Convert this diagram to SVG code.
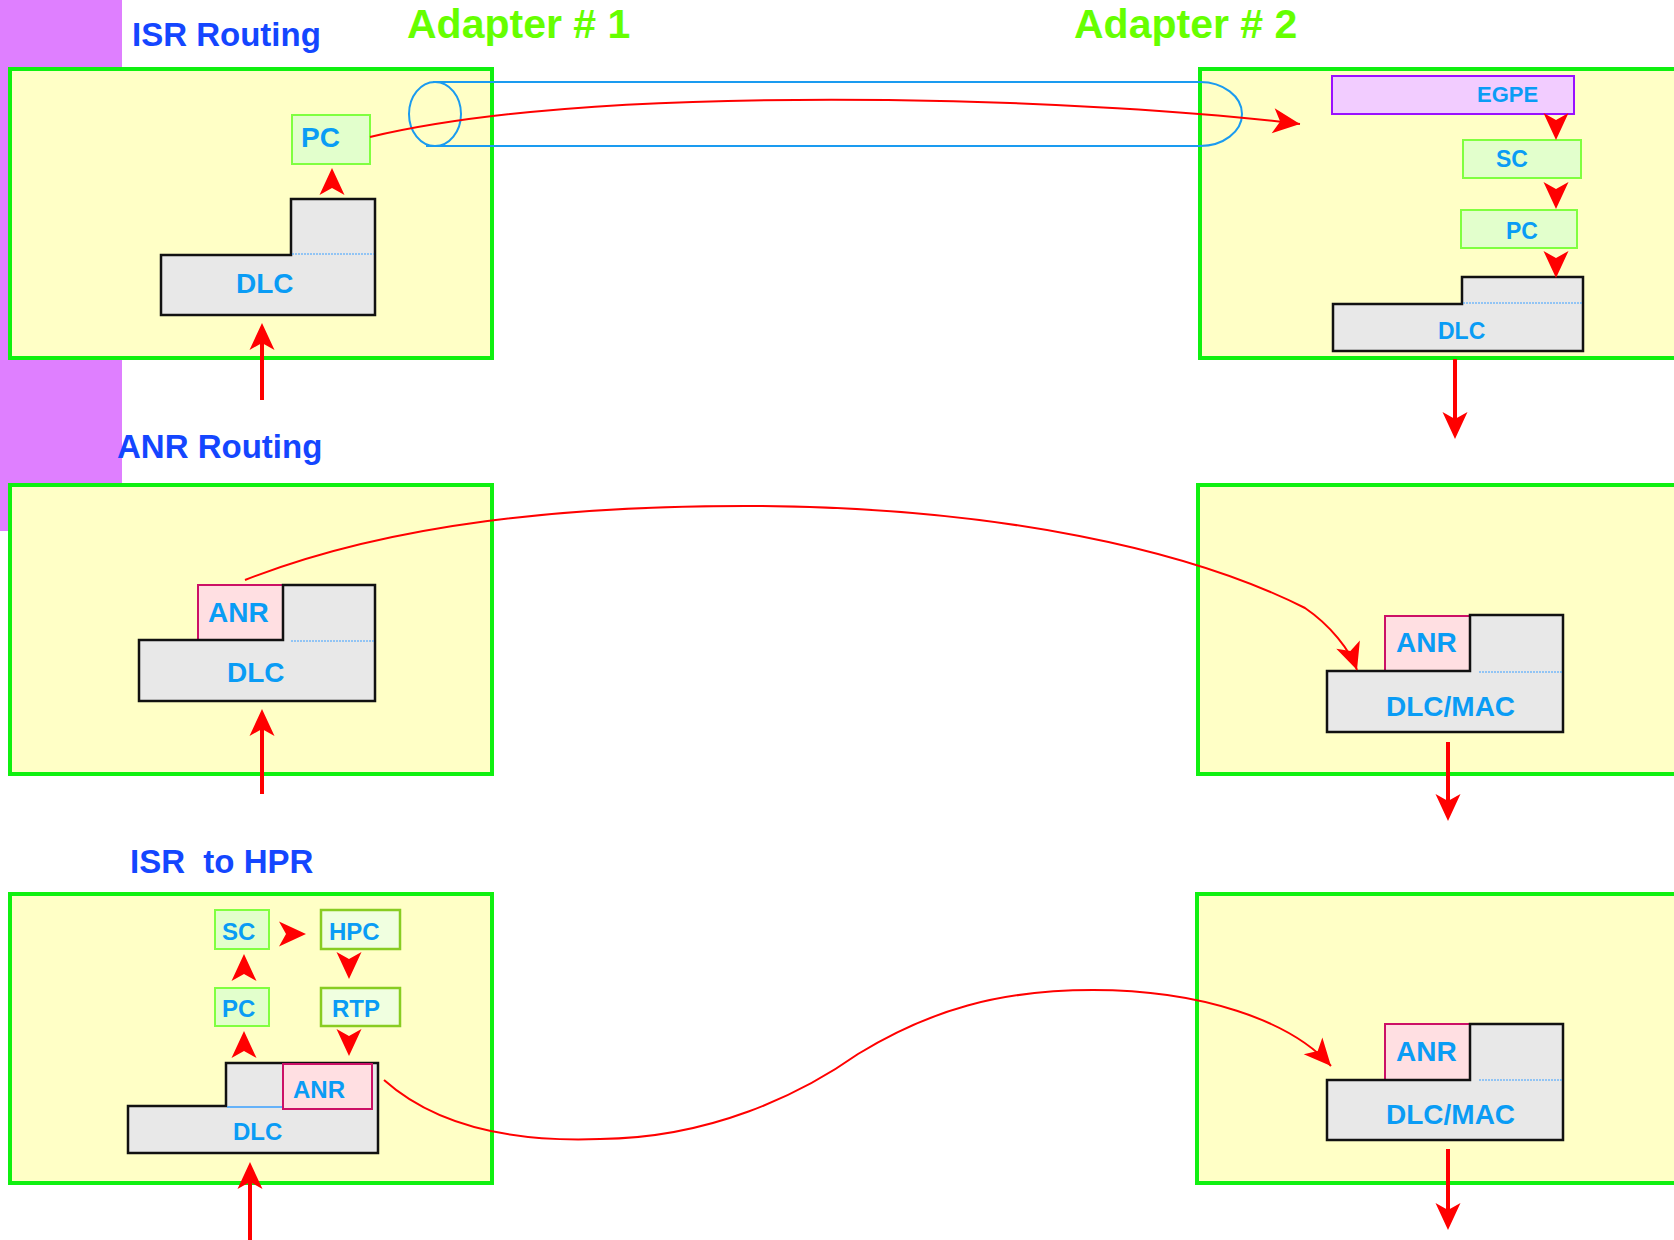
<svg xmlns="http://www.w3.org/2000/svg" xmlns:xlink="http://www.w3.org/1999/xlink" width="1674" height="1240" viewBox="0 0 1674 1240">
<style>
.panel{fill:#ffffc6;stroke:#10f010;stroke-width:4}
.head{font-family:"Liberation Sans",Arial,sans-serif;font-weight:bold;font-size:33px;fill:#1446ff}
.adapt{font-family:"Liberation Sans",Arial,sans-serif;font-weight:bold;font-size:41px;fill:#66ff00}
.lbl{font-family:"Liberation Sans",Arial,sans-serif;font-weight:bold;fill:#0a9cf5}
.gbox{fill:#e2ffcc;stroke:#80ff40;stroke-width:2}
.obox{fill:#f0ffe0;stroke:#88cc22;stroke-width:2.5}
.pbox{fill:#f2ccff;stroke:#9a10ff;stroke-width:2}
.anr{fill:#ffdfe2;stroke:#cc1166;stroke-width:2}
.dlc{fill:#e8e8e8;stroke:#111;stroke-width:2.5}
.dot{stroke:#3aa0ff;stroke-width:1.2;stroke-dasharray:2 1;fill:none}
.arr{stroke:#ff0000;stroke-width:4;fill:none}
.curve{stroke:#ff0000;stroke-width:2;fill:none}
.cyl{stroke:#1a9bf0;stroke-width:2;fill:none}
</style>
<defs>
<path id="ah" d="M0,0 L-12.5,27 L0,20 L12.5,27 Z" fill="#ff0000"/>
<marker id="mh" markerUnits="userSpaceOnUse" markerWidth="32" markerHeight="32" viewBox="-30 -15 32 30" refX="0" refY="0" orient="auto" overflow="visible">
<path d="M0,0 L-27,-12.5 L-20,0 L-27,12.5 Z" fill="#ff0000"/>
</marker>
</defs>
<rect x="0" y="0" width="1674" height="1240" fill="#ffffff"/>
<rect x="0" y="0" width="122" height="531" fill="#df7fff"/>

<text class="head" x="132" y="46">ISR Routing</text>
<text class="head" x="117" y="458">ANR Routing</text>
<text class="head" x="130" y="873" xml:space="preserve">ISR  to HPR</text>
<text class="adapt" x="407" y="38">Adapter # 1</text>
<text class="adapt" x="1074" y="38">Adapter # 2</text>

<g id="panel-isr-1">
<rect class="panel" x="10" y="69" width="482" height="289"/>
<g id="isr1-pc"><rect class="gbox" x="292" y="115" width="78" height="49"/><text class="lbl" x="301" y="147" font-size="28">PC</text></g>
<g id="isr1-dlc"><polygon class="dlc" points="161,255 291,255 291,199 375,199 375,315 161,315"/><line class="dot" x1="292" y1="254" x2="374" y2="254"/><text class="lbl" x="236" y="293" font-size="28">DLC</text></g>
</g>

<g id="panel-isr-2">
<rect class="panel" x="1200" y="69" width="490" height="289"/>
<g id="isr2-egpe"><rect class="pbox" x="1332" y="76" width="242" height="38"/><text class="lbl" x="1477" y="102" font-size="22">EGPE</text></g>
<g id="isr2-sc"><rect class="gbox" x="1463" y="140" width="118" height="38"/><text class="lbl" x="1496" y="167" font-size="23">SC</text></g>
<g id="isr2-pc"><rect class="gbox" x="1461" y="210" width="116" height="38"/><text class="lbl" x="1506" y="239" font-size="23">PC</text></g>
<g id="isr2-dlc"><polygon class="dlc" points="1333,304 1462,304 1462,277 1583,277 1583,351 1333,351"/><line class="dot" x1="1463" y1="303" x2="1583" y2="303"/><text class="lbl" x="1438" y="339" font-size="23">DLC</text></g>
</g>

<g id="panel-anr-1">
<rect class="panel" x="10" y="485" width="482" height="289"/>
<g id="anr1-anr"><rect class="anr" x="198" y="585" width="85" height="55"/><text class="lbl" x="208" y="622" font-size="28">ANR</text></g>
<g id="anr1-dlc"><polygon class="dlc" points="139,640 283,640 283,585 375,585 375,701 139,701"/><line class="dot" x1="291" y1="641" x2="374" y2="641"/><text class="lbl" x="227" y="682" font-size="28">DLC</text></g>
</g>

<g id="panel-anr-2">
<rect class="panel" x="1198" y="485" width="490" height="289"/>
<g id="anr2-anr"><rect class="anr" x="1385" y="616" width="85" height="55"/><text class="lbl" x="1396" y="652" font-size="28">ANR</text></g>
<g id="anr2-dlc"><polygon class="dlc" points="1327,671 1470,671 1470,615 1563,615 1563,732 1327,732"/><line class="dot" x1="1479" y1="672" x2="1563" y2="672"/><text class="lbl" x="1386" y="716" font-size="28">DLC/MAC</text></g>
</g>

<g id="panel-hpr-1">
<rect class="panel" x="10" y="894" width="482" height="289"/>
<g id="hpr1-sc"><rect class="gbox" x="215" y="910" width="54" height="39"/><text class="lbl" x="222" y="940" font-size="24">SC</text></g>
<g id="hpr1-hpc"><rect class="obox" x="321" y="910" width="79" height="39"/><text class="lbl" x="329" y="940" font-size="24">HPC</text></g>
<g id="hpr1-pc"><rect class="gbox" x="215" y="988" width="54" height="38"/><text class="lbl" x="222" y="1017" font-size="24">PC</text></g>
<g id="hpr1-rtp"><rect class="obox" x="321" y="988" width="79" height="38"/><text class="lbl" x="332" y="1017" font-size="24">RTP</text></g>
<g id="hpr1-dlc"><polygon class="dlc" points="128,1106 226,1106 226,1063 378,1063 378,1153 128,1153"/><line x1="227" y1="1107" x2="285" y2="1107" stroke="#3aa0ff" stroke-width="1.5"/><text class="lbl" x="233" y="1140" font-size="24">DLC</text></g>
<g id="hpr1-anr"><rect class="anr" x="283" y="1064" width="89" height="45"/><text class="lbl" x="293" y="1098" font-size="24">ANR</text></g>
</g>

<g id="panel-hpr-2">
<rect class="panel" x="1197" y="894" width="490" height="289"/>
<g id="hpr2-anr"><rect class="anr" x="1385" y="1024" width="85" height="56"/><text class="lbl" x="1396" y="1061" font-size="28">ANR</text></g>
<g id="hpr2-dlc"><polygon class="dlc" points="1327,1080 1470,1080 1470,1024 1563,1024 1563,1140 1327,1140"/><line class="dot" x1="1479" y1="1080" x2="1563" y2="1080"/><text class="lbl" x="1386" y="1124" font-size="28">DLC/MAC</text></g>
</g>

<g id="cylinder">
<ellipse class="cyl" cx="435" cy="114" rx="26" ry="32"/>
<line class="cyl" x1="433" y1="82" x2="1200" y2="82"/>
<line class="cyl" x1="426" y1="146" x2="1200" y2="146"/>
<path class="cyl" d="M1200,82 A42,32 0 0 1 1200,146"/>
</g>

<g id="connectors">
<path class="curve" d="M370,137 C500,106 700,98 888,100 C1050,102 1200,112 1300,124" marker-end="url(#mh)"/>
<path class="curve" d="M245,580 C390,523 570,505 760,506 C1000,508 1190,550 1305,608 C1330,625 1350,650 1357,670" marker-end="url(#mh)"/>
<path class="curve" d="M384,1080 C440,1130 520,1142 600,1139 C710,1138 800,1095 858,1054 C930,1010 1000,990 1093,990 C1200,990 1290,1020 1331,1066" marker-end="url(#mh)"/>

<line class="arr" x1="262" y1="400" x2="262" y2="340"/>
<use xlink:href="#ah" transform="translate(262,323)"/>
<use xlink:href="#ah" transform="translate(332,168)"/>

<use xlink:href="#ah" transform="translate(1556,140) rotate(180)"/>
<use xlink:href="#ah" transform="translate(1556,209) rotate(180)"/>
<use xlink:href="#ah" transform="translate(1556,278) rotate(180)"/>
<line class="arr" x1="1455" y1="359" x2="1455" y2="422"/>
<use xlink:href="#ah" transform="translate(1455,439) rotate(180)"/>

<line class="arr" x1="262" y1="794" x2="262" y2="726"/>
<use xlink:href="#ah" transform="translate(262,709)"/>

<line class="arr" x1="1448" y1="742" x2="1448" y2="804"/>
<use xlink:href="#ah" transform="translate(1448,821) rotate(180)"/>

<use xlink:href="#ah" transform="translate(306,934) rotate(90)"/>
<use xlink:href="#ah" transform="translate(244,954)"/>
<use xlink:href="#ah" transform="translate(349,979) rotate(180)"/>
<use xlink:href="#ah" transform="translate(244,1031)"/>
<use xlink:href="#ah" transform="translate(349,1056) rotate(180)"/>

<line class="arr" x1="250" y1="1240" x2="250" y2="1179"/>
<use xlink:href="#ah" transform="translate(250,1162)"/>

<line class="arr" x1="1448" y1="1149" x2="1448" y2="1213"/>
<use xlink:href="#ah" transform="translate(1448,1230) rotate(180)"/>
</g>
</svg>
